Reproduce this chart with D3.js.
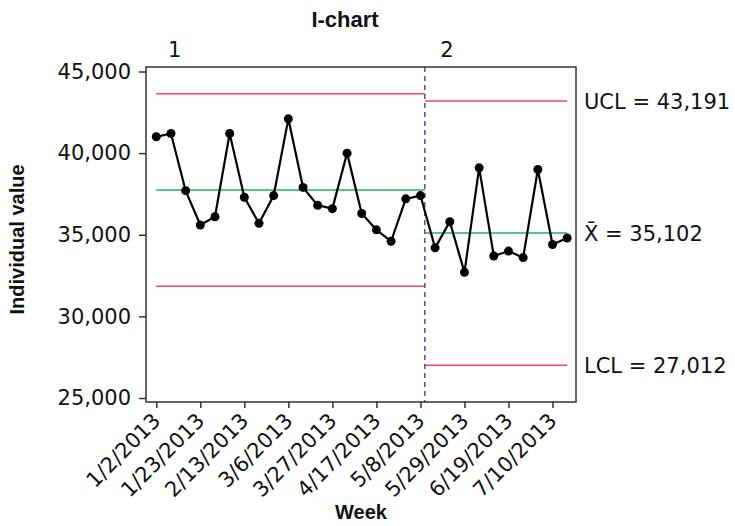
<!DOCTYPE html>
<html>
<head>
<meta charset="utf-8">
<script src="https://cdn.jsdelivr.net/npm/d3@7"></script>
<style>
  body { margin: 0; background: #fff; }
  text { font-family: "DejaVu Sans", sans-serif; fill: #111; }
  .bold { font-family: "Liberation Sans", Arial, sans-serif; font-weight: bold; }
</style>
</head>
<body>
<svg id="chart" width="735" height="526"></svg>
<script>
// weekly dates (categories)
var weeks = ['1/2/2013', '1/9/2013', '1/16/2013', '1/23/2013', '1/30/2013', '2/6/2013', '2/13/2013',
  '2/20/2013', '2/27/2013', '3/6/2013', '3/13/2013', '3/20/2013', '3/27/2013', '4/3/2013', '4/10/2013',
  '4/17/2013', '4/24/2013', '5/1/2013', '5/8/2013', '5/15/2013', '5/22/2013', '5/29/2013', '6/5/2013',
  '6/12/2013', '6/19/2013', '6/26/2013', '7/3/2013', '7/10/2013', '7/17/2013'];
var values = [41000, 41200, 37700, 35600, 36100, 41200, 37300, 35700, 37400, 42100,
  37900, 36800, 36600, 40000, 36300, 35300, 34600, 37200, 37400,
  34200, 35800, 32700, 39100, 33700, 34000, 33600, 39000, 34400, 34800];
var stage = [1, 1, 1, 1, 1, 1, 1, 1, 1, 1, 1, 1, 1, 1, 1, 1, 1, 1, 1,
  2, 2, 2, 2, 2, 2, 2, 2, 2, 2];
var stages = [1, 2];
var ucl = [43640, 43191];
var center = [37740, 35102];
var lcl = [31840, 27012];
var yTicks = [25000, 30000, 35000, 40000, 45000];
var xTickLabels = ['1/2/2013', '1/23/2013', '2/13/2013', '3/6/2013', '3/27/2013', '4/17/2013',
  '5/8/2013', '5/29/2013', '6/19/2013', '7/10/2013'];

const svg = d3.select('#chart');
const pl = 146, pr = 576, pt = 67, pb = 402;

const x = d3.scaleLinear().domain([-0.7, 28.6]).range([pl, pr]);
const y = d3.scaleLinear().domain([24755, 45276]).range([pb, pt]);
const fmt = d3.format(',');

// stage boundaries
const firstIdx = stages.map(s => stage.indexOf(s));
const lastIdx = stages.map(s => stage.lastIndexOf(s));
const divider = x(lastIdx[0] + 0.3);
const segStart = [x(firstIdx[0]), divider];
const segEnd = [divider, x(lastIdx[1])];

// frame
svg.append('rect')
  .attr('x', pl).attr('y', pt)
  .attr('width', pr - pl).attr('height', pb - pt)
  .attr('fill', 'none').attr('stroke', '#333').attr('stroke-width', 1.5);

// y axis
const yAxis = svg.append('g').attr('transform', `translate(${pl},0)`)
  .call(d3.axisLeft(y).tickValues(yTicks).tickFormat(fmt).tickSize(7).tickPadding(8));
yAxis.select('.domain').remove();
yAxis.selectAll('line').attr('stroke', '#333').attr('stroke-width', 1.5);
yAxis.selectAll('text').style('font-family', '"DejaVu Sans", sans-serif').style('font-size', '21px').attr('fill', '#111');

// x axis
const xAxis = svg.append('g').attr('transform', `translate(0,${pb})`)
  .call(d3.axisBottom(x).tickValues(xTickLabels.map(d => weeks.indexOf(d)))
    .tickFormat(i => weeks[i]).tickSize(6));
xAxis.select('.domain').remove();
xAxis.selectAll('line').attr('stroke', '#333').attr('stroke-width', 1.5);
xAxis.selectAll('text')
  .style('font-family', '"DejaVu Sans", sans-serif').style('font-size', '21px').attr('fill', '#111')
  .attr('text-anchor', 'end')
  .attr('x', 0).attr('y', 0).attr('dy', 0)
  .attr('transform', 'translate(5,20) rotate(-45)');

// control limits per stage
const limitSets = [
  { vals: ucl, color: '#ef4b55' },
  { vals: center, color: '#22b35e' },
  { vals: lcl, color: '#ef4b55' }
];
limitSets.forEach(set => {
  svg.append('g').selectAll('line')
    .data(stages.map((s, k) => k))
    .join('line')
    .attr('x1', k => segStart[k]).attr('x2', k => segEnd[k])
    .attr('y1', k => y(set.vals[k])).attr('y2', k => y(set.vals[k]))
    .attr('stroke', set.color).attr('stroke-width', 1.5);
});

// stage divider
svg.append('line')
  .attr('x1', divider).attr('x2', divider)
  .attr('y1', pt).attr('y2', pb)
  .attr('stroke', '#34348c').attr('stroke-width', 1.3)
  .attr('stroke-dasharray', '5,4');

// data line
const line = d3.line().x(d => x(d.i)).y(d => y(d.v));
const pts = values.map((v, i) => ({ i: i, v: v }));
svg.append('path')
  .attr('d', line(pts))
  .attr('fill', 'none').attr('stroke', '#000').attr('stroke-width', 2.2);
svg.append('g').selectAll('circle')
  .data(pts)
  .join('circle')
  .attr('cx', d => x(d.i)).attr('cy', d => y(d.v))
  .attr('r', 4.5).attr('fill', '#000');

// stage labels
svg.append('g').selectAll('text')
  .data(stages)
  .join('text')
  .attr('x', (s, k) => k === 0 ? x(1.25) : x(19.8))
  .attr('y', 57)
  .attr('text-anchor', 'middle')
  .style('font-size', '21px')
  .text(s => s);

// right side labels for last stage
const last = stages.length - 1;
const rightLabels = [
  { v: ucl[last], t: 'UCL = ' + fmt(ucl[last]) },
  { v: center[last], t: 'X\u0304 = ' + fmt(center[last]) },
  { v: lcl[last], t: 'LCL = ' + fmt(lcl[last]) }
];
svg.append('g').selectAll('text')
  .data(rightLabels)
  .join('text')
  .attr('x', 584)
  .attr('y', d => y(d.v))
  .attr('dy', '0.36em')
  .style('font-size', '21px')
  .text(d => d.t);

// titles
svg.append('text').attr('class', 'bold')
  .attr('x', 345).attr('y', 27).attr('text-anchor', 'middle')
  .style('font-size', '22px').text('I-chart');
svg.append('text').attr('class', 'bold')
  .attr('x', (pl + pr) / 2).attr('y', 519).attr('text-anchor', 'middle')
  .style('font-size', '20px').text('Week');
svg.append('text').attr('class', 'bold')
  .attr('transform', `translate(24,${(pt + pb) / 2 + 5}) rotate(-90)`)
  .attr('text-anchor', 'middle')
  .style('font-size', '20px').text('Individual value');
</script>
</body>
</html>
